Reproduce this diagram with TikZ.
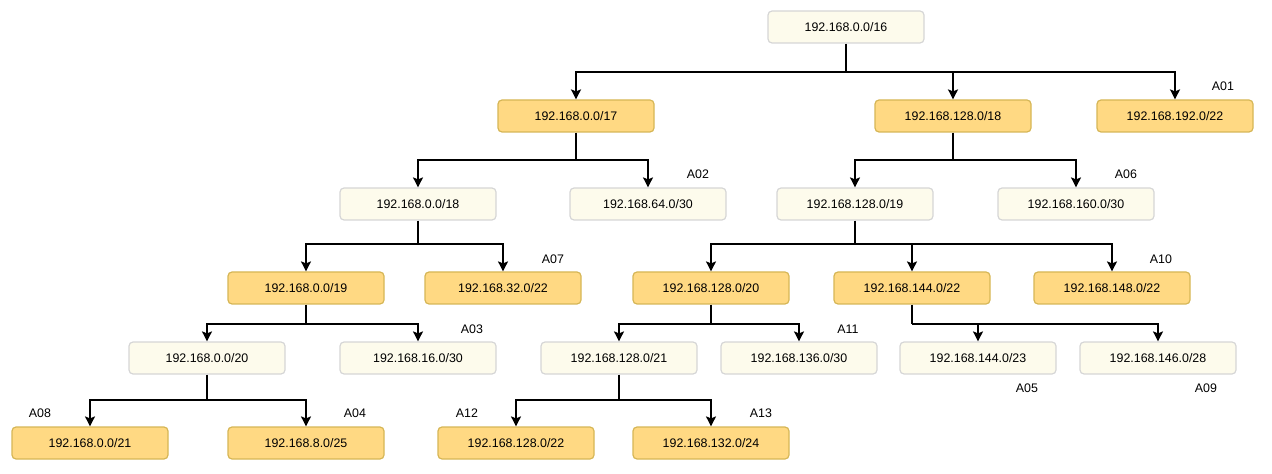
\documentclass[tikz,border=0pt]{standalone}
\usepackage{fontspec}
\setmainfont{Liberation Sans}
\usetikzlibrary{arrows.meta}
\definecolor{lfill}{HTML}{FDFBEC}
\definecolor{ldraw}{HTML}{D6D6D6}
\definecolor{ofill}{HTML}{FFD983}
\definecolor{odraw}{HTML}{D6B656}
\begin{document}
\begin{tikzpicture}[x=0.75pt,y=-0.75pt,
  box/.style={rounded corners=3pt,line width=0.9pt,minimum width=117pt,minimum height=24pt,inner sep=0pt,font=\fontsize{9.3}{10}\selectfont},
  lbox/.style={box,draw=ldraw,fill=lfill},
  obox/.style={box,draw=odraw,fill=ofill},
  tag/.style={font=\fontsize{9.3}{10}\selectfont,inner sep=0pt},
  conn/.style={line width=1.2pt,-{Stealth[length=7.5pt,width=7.5pt,inset=1.5pt]}},
  trunk/.style={line width=1.2pt}]
\useasboundingbox (0,0) rectangle (1272,474);
% nodes
\node[lbox] (r) at (846,27) {192.168.0.0/16};
\node[obox] (a17) at (576,116) {192.168.0.0/17};
\node[obox] (b18) at (953,116) {192.168.128.0/18};
\node[obox] (c22) at (1175,116) {192.168.192.0/22};
\node[lbox] (a18) at (418,204) {192.168.0.0/18};
\node[lbox] (a30) at (648,204) {192.168.64.0/30};
\node[lbox] (b19) at (855,204) {192.168.128.0/19};
\node[lbox] (b30) at (1076,204) {192.168.160.0/30};
\node[obox] (a19) at (306,288) {192.168.0.0/19};
\node[obox] (a22) at (503,288) {192.168.32.0/22};
\node[obox] (b20) at (711,288) {192.168.128.0/20};
\node[obox] (b22) at (912,288) {192.168.144.0/22};
\node[obox] (c148) at (1112,288) {192.168.148.0/22};
\node[lbox] (a20) at (207,358) {192.168.0.0/20};
\node[lbox] (a16) at (418,358) {192.168.16.0/30};
\node[lbox] (b21) at (619,358) {192.168.128.0/21};
\node[lbox] (b136) at (799,358) {192.168.136.0/30};
\node[lbox] (b144) at (978,358) {192.168.144.0/23};
\node[lbox] (b146) at (1158,358) {192.168.146.0/28};
\node[obox] (a21) at (90,443) {192.168.0.0/21};
\node[obox] (a25) at (306,443) {192.168.8.0/25};
\node[obox] (b128) at (516,443) {192.168.128.0/22};
\node[obox] (b132) at (711,443) {192.168.132.0/24};
% labels
\node[tag] (t01) at (1223,86) {A01};
\node[tag] (t02) at (698,174) {A02};
\node[tag] (t06) at (1126,174) {A06};
\node[tag] (t07) at (553,259) {A07};
\node[tag] (t10) at (1161,259) {A10};
\node[tag] (t03) at (472,329) {A03};
\node[tag] (t11) at (848,329) {A11};
\node[tag] (t05) at (1027,388) {A05};
\node[tag] (t09) at (1206,388) {A09};
\node[tag] (t08) at (40,413) {A08};
\node[tag] (t04) at (355,413) {A04};
\node[tag] (t12) at (467,413) {A12};
\node[tag] (t13) at (761,413) {A13};
% connectors
\coordinate (jr) at (846,72);
\draw[trunk] (r.south) -- (jr);
\draw[conn] (jr) -| (a17.north);
\draw[conn] (jr) -| (b18.north);
\draw[conn] (jr) -| (c22.north);
\coordinate (j1) at (576,160);
\draw[trunk] (a17.south) -- (j1);
\draw[conn] (j1) -| (a18.north);
\draw[conn] (j1) -| (a30.north);
\coordinate (j2) at (953,160);
\draw[trunk] (b18.south) -- (j2);
\draw[conn] (j2) -| (b19.north);
\draw[conn] (j2) -| (b30.north);
\coordinate (j3) at (418,244);
\draw[trunk] (a18.south) -- (j3);
\draw[conn] (j3) -| (a19.north);
\draw[conn] (j3) -| (a22.north);
\coordinate (j4) at (855,244);
\draw[trunk] (b19.south) -- (j4);
\draw[conn] (j4) -| (b20.north);
\draw[conn] (j4) -| (b22.north);
\draw[conn] (j4) -| (c148.north);
\coordinate (j5) at (306,324);
\draw[trunk] (a19.south) -- (j5);
\draw[conn] (j5) -| (a20.north);
\draw[conn] (j5) -| (a16.north);
\coordinate (j6) at (711,324);
\draw[trunk] (b20.south) -- (j6);
\draw[conn] (j6) -| (b21.north);
\draw[conn] (j6) -| (b136.north);
\coordinate (j7) at (912,324);
\draw[trunk] (b22.south) -- (j7);
\draw[conn] (j7) -| (b144.north);
\draw[conn] (j7) -| (b146.north);
\coordinate (j8) at (207,400);
\draw[trunk] (a20.south) -- (j8);
\draw[conn] (j8) -| (a21.north);
\draw[conn] (j8) -| (a25.north);
\coordinate (j9) at (619,400);
\draw[trunk] (b21.south) -- (j9);
\draw[conn] (j9) -| (b128.north);
\draw[conn] (j9) -| (b132.north);
\end{tikzpicture}
\end{document}
